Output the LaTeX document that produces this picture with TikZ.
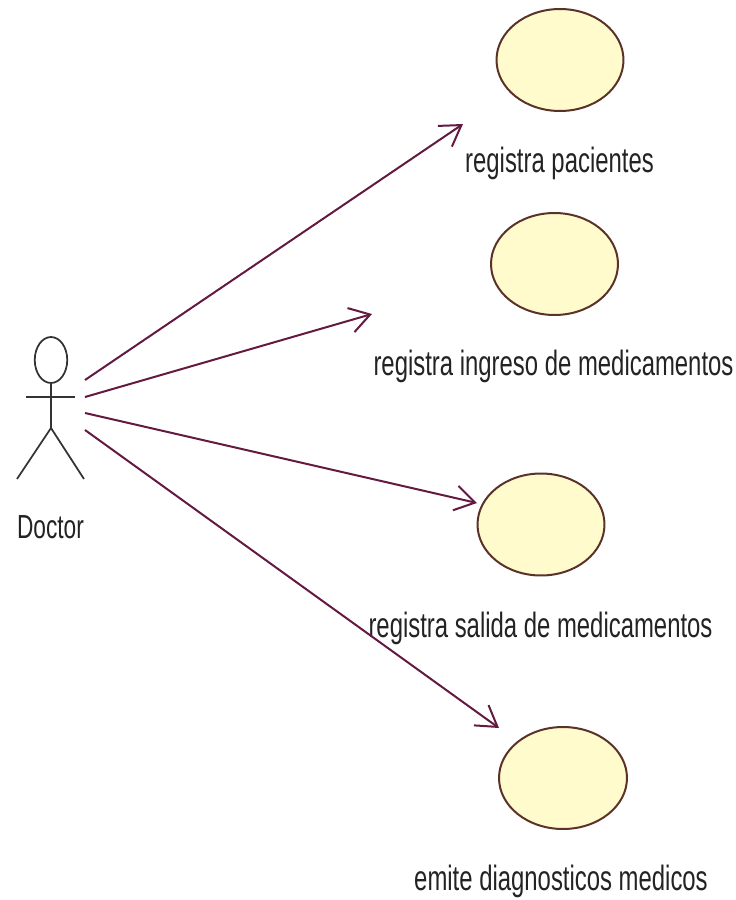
\documentclass[tikz,border=0pt]{standalone}
\usepackage{fontspec}
\usepackage{tikz}
\usetikzlibrary{shapes.geometric, arrows.meta}
\setmainfont[FakeStretch=0.68]{Liberation Sans}
\definecolor{linkcol}{RGB}{100,25,65}
\definecolor{casefill}{RGB}{255,251,205}
\definecolor{caseline}{RGB}{90,50,40}
\definecolor{textcol}{RGB}{35,35,35}

\begin{document}
\begin{tikzpicture}[x=0.02cm, y=-0.02cm,
    usecase/.style={ellipse, draw=caseline, fill=casefill, line width=0.4mm, minimum width=25.4mm, minimum height=20.4mm, inner sep=0},
    caselabel/.style={anchor=base, inner sep=0, text=textcol, font=\fontsize{20}{24}\selectfont},
    limb/.style={draw=black!80, line width=0.35mm},
    link/.style={draw=linkcol, line width=0.4mm, -{Straight Barb[length=4mm, width=5mm]}}]
  \useasboundingbox (0,0) rectangle (736,900);

  \node[usecase] (c1) at (560,60)  {};
  \node[usecase] (c2) at (554.5,264) {};
  \node[usecase] (c3) at (541,524.5) {};
  \node[usecase, minimum width=25.6mm] (c4) at (563,778) {};

  \node[caselabel] (l1) at (559.5,172) {registra pacientes};
  \node[caselabel] (l2) at (553.5,375) {registra ingreso de medicamentos};
  \node[caselabel] (l3) at (540.5,637) {registra salida de medicamentos};
  \node[caselabel] (l4) at (561,890) {emite diagnosticos medicos};

  % actor
  \node[draw=black!80, line width=0.35mm, ellipse, minimum width=6.5mm, minimum height=9.2mm, inner sep=0] (head) at (51,360) {};
  \coordinate (hips) at (51,428);
  \coordinate (armL) at (26,397);
  \coordinate (armR) at (75,397);
  \coordinate (footL) at (17,479);
  \coordinate (footR) at (84,479);
  \draw[limb] (head.south) -- (hips);
  \draw[limb] (armL) -- (armR);
  \draw[limb] (footL) -- (hips) -- (footR);
  \node[caselabel, font=\fontsize{19}{23}\selectfont] (doctor) at (50.5,538) {Doctor};

  % links
  \coordinate (s1) at (85,380);
  \coordinate (s2) at (85,397);
  \coordinate (s3) at (85,413);
  \coordinate (s4) at (85,430);
  \coordinate (e1) at (463,124);
  \coordinate (e2) at (372,314);
  \coordinate (e3) at (477,503);
  \coordinate (e4) at (499,728);
  \draw[link] (s1) -- (e1);
  \draw[link] (s2) -- (e2);
  \draw[link] (s3) -- (e3);
  \draw[link] (s4) -- (e4);
\end{tikzpicture}
\end{document}
